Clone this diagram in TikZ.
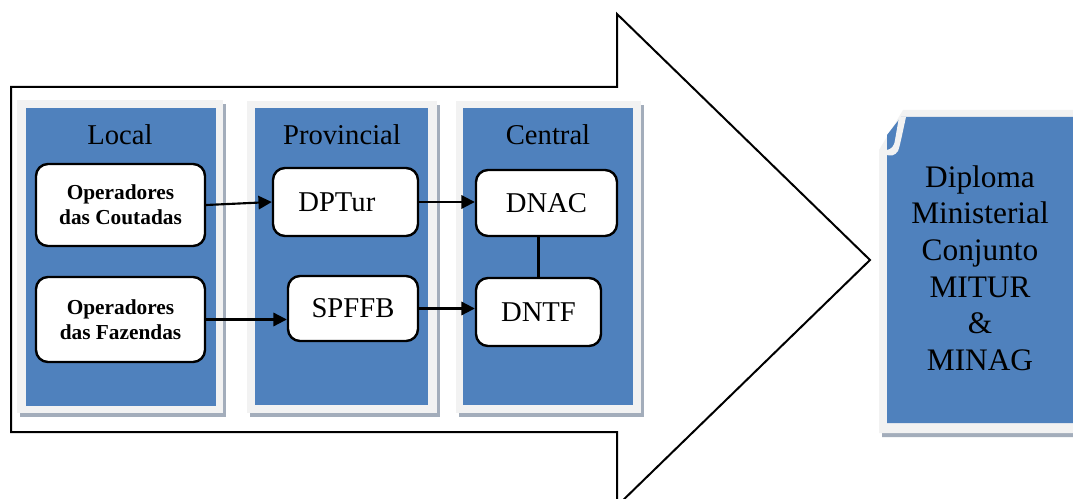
\documentclass[tikz,border=0pt]{standalone}
\usepackage{fontspec}
\setmainfont{Liberation Serif}
\usetikzlibrary{arrows.meta}
\definecolor{pblue}{HTML}{4F81BD}
\definecolor{pgray}{HTML}{F2F2F2}
\definecolor{pshadow}{HTML}{A3ADBB}
\begin{document}
\begin{tikzpicture}[x=0.75pt,y=-0.75pt,
  bigarrow/.style={draw=black,line width=1.5pt,fill=white,line join=miter},
  panelshadow/.style={fill=pshadow},
  panelouter/.style={fill=pgray},
  panelinner/.style={fill=pblue},
  header/.style={anchor=base,font=\fontsize{21.5}{26}\selectfont,inner sep=0},
  box/.style={draw=black,line width=1.8pt,rounded corners=9pt,fill=white,inner sep=0,align=center,font=\fontsize{21.5}{26}\selectfont},
  opbox/.style={box,font=\fontsize{16}{18.75}\selectfont\bfseries},
  conn/.style={line width=1.6pt,-{Triangle[length=10pt,width=10pt]}},
  plain/.style={line width=1.6pt}
]
\useasboundingbox (0,0) rectangle (1073,499);
\clip (0,0) rectangle (1073,499);

% big arrow
\draw[bigarrow] (11,87) -- (617,87) -- (617,14) -- (870,260) -- (617,506) -- (617,432) -- (11,432) -- cycle;

% panels
\fill[panelshadow] (20,104) rectangle (226,417);
\fill[panelouter] (17,100) rectangle (223,413);
\fill[panelinner] (26,108) rectangle (216,406);

\fill[panelshadow] (250,105) rectangle (440,417);
\fill[panelouter] (247,101) rectangle (437,413);
\fill[panelinner] (255,108) rectangle (428,405);

\fill[panelshadow] (459,105) rectangle (644,417);
\fill[panelouter] (456,101) rectangle (641,413);
\fill[panelinner] (463,108) rectangle (633,405);

% diploma panel
\fill[panelshadow] (882,154) -- (906,114) -- (1080,114) -- (1080,437) -- (882,437) -- cycle;
\fill[panelouter] (879,150) -- (903,110) -- (1080,110) -- (1080,433) -- (879,433) -- cycle;
\fill[panelinner] (887,135) -- (901,117) -- (1080,117) -- (1080,423) -- (887,423) -- cycle;
\fill[pgray] (906,117) .. controls (902,135) and (900,146) .. (898,151) .. controls (895,156) and (890,156) .. (887,155) -- (887,150) .. controls (891,149) and (894,147) .. (895,140) -- (899,117) -- cycle;

% headers
\node[header] (hlocal) at (120,145) {Local};
\node[header] (hprov) at (342,145) {Provincial};
\node[header] (hcent) at (548,145) {Central};

% boxes
\node[opbox,minimum width=126.75pt,minimum height=61.5pt] (cout) at (120.5,205) {Operadores\\das Coutadas};
\node[opbox,minimum width=126.75pt,minimum height=63.75pt] (faz) at (120.5,319.5) {Operadores\\das Fazendas};
\node[box,minimum width=108.75pt,minimum height=51pt] (dptur) at (345.5,202) {DPTur\hspace*{13pt}};
\node[box,minimum width=97.5pt,minimum height=48.75pt] (spffb) at (353,308.5) {SPFFB};
\node[box,minimum width=105.75pt,minimum height=49.5pt] (dnac) at (546.5,203) {DNAC};
\node[box,minimum width=93.75pt,minimum height=51pt] (dntf) at (538.5,312) {DNTF};

% diploma text
\node[align=center,inner sep=0,font=\fontsize{23.5}{27.5}\selectfont] (dipl) at (980,268) {Diploma\\Ministerial\\Conjunto\\MITUR\\\&\\MINAG};

% connectors
\draw[conn] (cout.east) -- (dptur.west);
\draw[conn] (faz.east) -- (faz.east -| spffb.west);
\draw[conn] (dptur.east) -- (dptur.east -| dnac.west);
\draw[conn] (spffb.east) -- (spffb.east -| dntf.west);
\draw[plain] (dntf.north) -- (dntf.north |- dnac.south);
\end{tikzpicture}
\end{document}
